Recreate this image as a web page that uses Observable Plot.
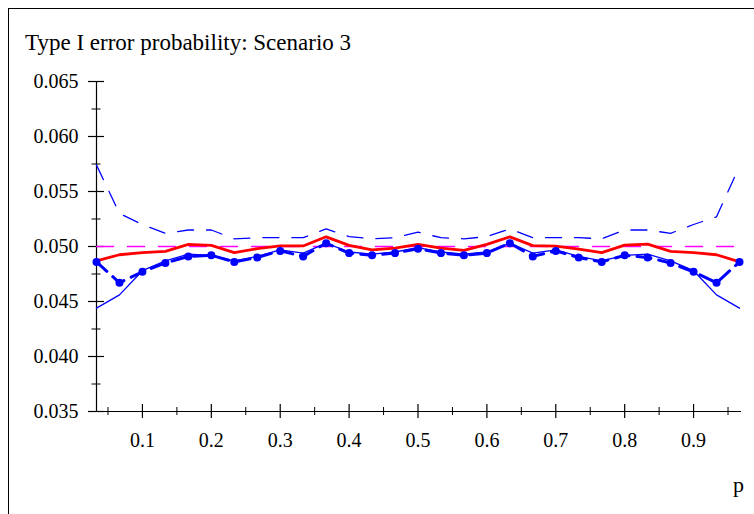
<!DOCTYPE html>
<html>
<head>
<meta charset="utf-8">
<script src="https://cdn.jsdelivr.net/npm/d3@7"></script>
<script src="https://cdn.jsdelivr.net/npm/@observablehq/plot@0.6"></script>
<style>
  html, body { margin: 0; padding: 0; background: #fff; overflow: hidden; }
  #chart svg { display: block; }
</style>
</head>
<body>
<div id="wrap" style="position:relative;width:754px;height:514px;overflow:hidden;font-family:'Liberation Serif';">
  <div id="frame" style="position:absolute;left:8px;top:8px;width:800px;height:600px;border:1px solid #000;box-sizing:border-box;"></div>
  <div id="title" style="position:relative;height:60px;padding-left:25px;box-sizing:border-box;padding-top:30px;font-family:'Liberation Serif';font-size:23px;line-height:25px;color:#000;">Type I error probability: Scenario 3</div>
  <div id="chart" style="position:relative;"></div>
</div>
<script>
// p values: k/30, k = 1..29
const p = [0.03333, 0.06667, 0.1, 0.13333, 0.16667, 0.2, 0.23333, 0.26667, 0.3, 0.33333,
           0.36667, 0.4, 0.43333, 0.46667, 0.5, 0.53333, 0.56667, 0.6, 0.63333, 0.66667,
           0.7, 0.73333, 0.76667, 0.8, 0.83333, 0.86667, 0.9, 0.93333, 0.96667];

// nominal level (magenta dashed)
const nominal = [0.05, 0.05, 0.05, 0.05, 0.05, 0.05, 0.05, 0.05, 0.05, 0.05,
                 0.05, 0.05, 0.05, 0.05, 0.05, 0.05, 0.05, 0.05, 0.05, 0.05,
                 0.05, 0.05, 0.05, 0.05, 0.05, 0.05, 0.05, 0.05, 0.05];

// red solid
const redSeries = [0.0487, 0.04925, 0.04945, 0.04955, 0.0502, 0.0501, 0.04945, 0.0498, 0.05005, 0.05005,
                   0.05088, 0.0501, 0.0497, 0.04985, 0.0502, 0.04985, 0.04965, 0.0502, 0.05088, 0.05008,
                   0.05004, 0.04977, 0.04945, 0.05013, 0.05022, 0.04955, 0.04945, 0.04925, 0.0486];

// blue thin dashed (upper)
const upperDashed = [0.0574, 0.0530, 0.0520, 0.0512, 0.0515, 0.0515, 0.0507, 0.0508, 0.0508, 0.0508,
                     0.0516, 0.0509, 0.0507, 0.0508, 0.0513, 0.0508, 0.0507, 0.0509, 0.0516, 0.0508,
                     0.0508, 0.0508, 0.0507, 0.0515, 0.0515, 0.0512, 0.0520, 0.0527, 0.0573];

// blue thin solid (lower)
const lowerSolid = [0.0444, 0.0456, 0.0478, 0.0487, 0.0493, 0.0492, 0.0487, 0.0491, 0.0497, 0.0494,
                    0.0503, 0.0495, 0.0493, 0.0495, 0.0499, 0.0495, 0.0493, 0.0495, 0.0503, 0.0494,
                    0.0497, 0.0491, 0.0487, 0.0492, 0.0493, 0.0487, 0.0478, 0.0456, 0.0444];

// blue thick dashed with dots
const dotted = [0.0486, 0.0467, 0.0477, 0.0485, 0.0491, 0.0492, 0.0486, 0.0490, 0.0496, 0.0491,
                0.0503, 0.0494, 0.0492, 0.0494, 0.0498, 0.0494, 0.0492, 0.0494, 0.0503, 0.0491,
                0.0496, 0.0490, 0.0486, 0.0492, 0.0490, 0.0485, 0.0477, 0.0467, 0.0486];

const yMajor = [0.035, 0.040, 0.045, 0.050, 0.055, 0.060, 0.065];
const yMinor = [0.0375, 0.0425, 0.0475, 0.0525, 0.0575, 0.0625];
const xMajor = [0.1, 0.2, 0.3, 0.4, 0.5, 0.6, 0.7, 0.8, 0.9];
const xMinor = [0.05, 0.15, 0.25, 0.35, 0.45, 0.55, 0.65, 0.75, 0.85, 0.95];
const xDomain = [0.03333, 0.96667];
const yDomain = [0.035, 0.065];
const xLabel = "p";

const W = 754, H = 454;
const mL = 96, mR = 15, mT = 21, mB = 103;
const innerW = W - mL - mR, innerH = H - mT - mB;
const FONT = "Liberation Serif";

const rows = (ys) => p.map((x, i) => ({p: x, v: ys[i]}));

const chart = Plot.plot({
  width: W, height: H,
  marginLeft: mL, marginRight: mR, marginTop: mT, marginBottom: mB,
  style: {fontSize: "20px", background: "transparent", color: "#000", overflow: "visible"},
  x: {domain: xDomain},
  y: {domain: yDomain},
  marks: [
    Plot.ruleX([xDomain[0]], {stroke: "#000", strokeWidth: 1.2}),
    Plot.ruleY([yDomain[0]], {stroke: "#000", strokeWidth: 1.2, insetRight: -2}),
    Plot.tickY(yMajor, {y: d => d, dx: -8, insetRight: innerW - 16, stroke: "#000", strokeWidth: 1.2}),
    Plot.tickY(yMinor, {y: d => d, dx: -4.5, insetRight: innerW - 9, stroke: "#000", strokeWidth: 1}),
    Plot.tickX(xMajor, {x: d => d, dy: 7, insetTop: innerH - 14, stroke: "#000", strokeWidth: 1.2}),
    Plot.tickX(xMinor, {x: d => d, dy: 4, insetTop: innerH - 8, stroke: "#000", strokeWidth: 1}),
    Plot.axisY({ticks: yMajor, tickSize: 0, tickPadding: 18, tickFormat: d3.format(".3f"), label: null, fontSize: 20, fontFamily: FONT}),
    Plot.axisX({ticks: xMajor, tickSize: 0, tickPadding: 21, tickFormat: d3.format(".1f"), label: null, fontSize: 20, fontFamily: FONT}),
    Plot.text([xLabel], {frameAnchor: "bottom-right", textAnchor: "middle", lineAnchor: "middle", dx: -1, dy: 73, fontSize: 22, fontFamily: FONT}),
    Plot.line(rows(nominal), {x: "p", y: "v", stroke: "#ff00ff", strokeWidth: 1.5, strokeDasharray: "17,14"}),
    Plot.line(rows(upperDashed), {x: "p", y: "v", stroke: "#0000ff", strokeWidth: 1.3, strokeDasharray: "16,13"}),
    Plot.line(rows(lowerSolid), {x: "p", y: "v", stroke: "#0000ff", strokeWidth: 1.3}),
    Plot.line(rows(redSeries), {x: "p", y: "v", stroke: "#ff0000", strokeWidth: 2.8}),
    Plot.line(rows(dotted), {x: "p", y: "v", stroke: "#0000ff", strokeWidth: 3, strokeDasharray: "14,8"}),
    Plot.dot(rows(dotted), {x: "p", y: "v", r: 4, fill: "#0000ff", stroke: "none"})
  ]
});
chart.style.fontFamily = "'Liberation Serif'";
chart.querySelectorAll("text").forEach(t => { t.style.fontFamily = "'Liberation Serif'"; });
document.getElementById("chart").appendChild(chart);
</script>
</body>
</html>
